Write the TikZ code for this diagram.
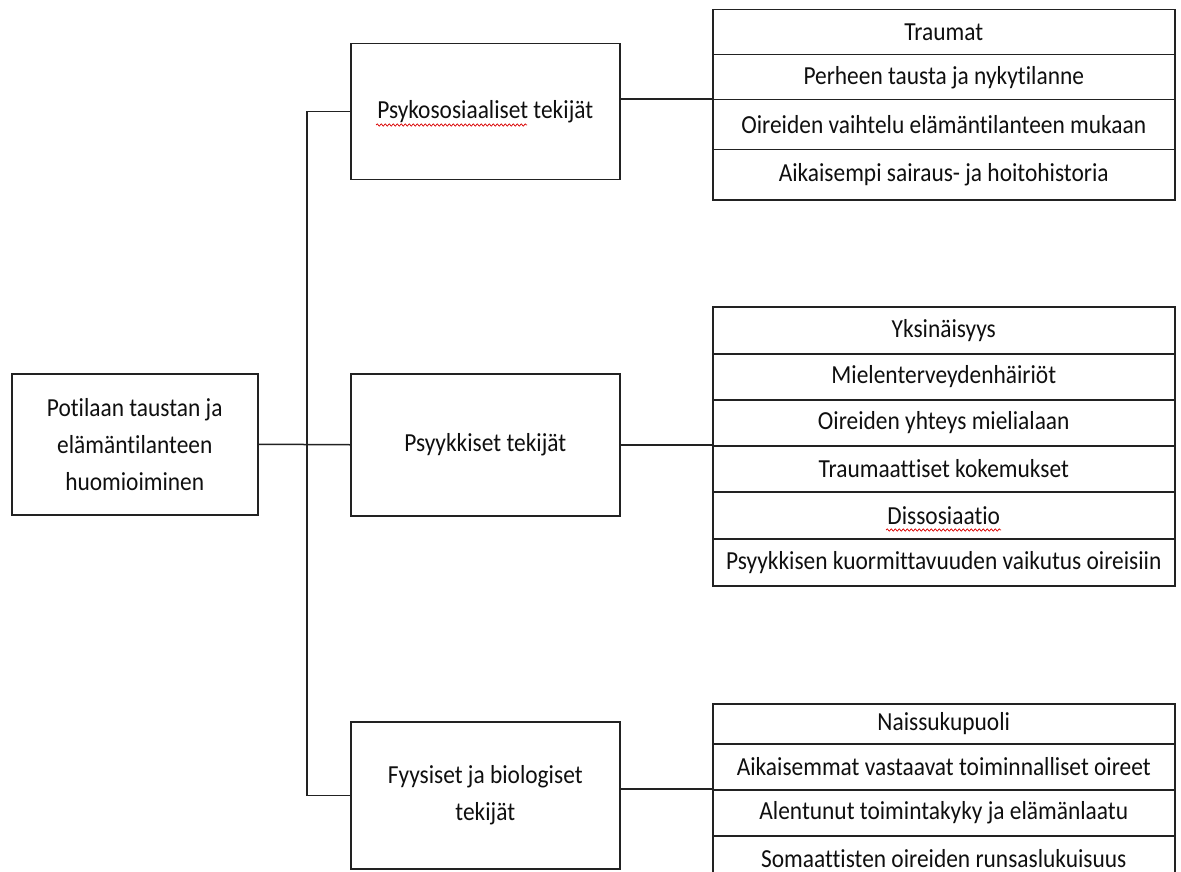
\documentclass[tikz,border=0pt]{standalone}
\usepackage{fontspec}
\setmainfont{Carlito}[FakeStretch=0.9, Ligatures=NoCommon]
\usetikzlibrary{decorations.pathmorphing}
\definecolor{edge}{HTML}{222222}
\definecolor{ink}{HTML}{0F0F0F}
\begin{document}
\begin{tikzpicture}[x=1pt, y=-1pt,
  every node/.style={font=\fontsize{26}{37}\selectfont, text=ink},
  box/.style={draw=edge, line width=1.5pt, anchor=north west, inner sep=0pt,
    align=center, minimum width=#1},
  box/.default=269,
  rowbox/.style={draw=edge, line width=1.5pt, anchor=north west, inner sep=0pt,
    minimum width=462, minimum height=#1},
  link/.style={draw=edge, line width=1.5pt},
  spell/.style={draw=red!85!black, line width=0.7pt, decorate,
    decoration={snake, amplitude=1.1pt, segment length=4pt}}]
\useasboundingbox (0,0) rectangle (1181,872);

% root and the three groups
\node[box=246, minimum height=141] (root) at (11,373)
  {Potilaan taustan ja\\elämäntilanteen\\huomioiminen};
\node[box, minimum height=136] (psykos) at (350,43) {Psykososiaaliset tekijät};
\node[box, minimum height=142] (psyyk) at (350,373) {Psyykkiset tekijät};
\node[box, minimum height=147] (fyys) at (350,721)
  {Fyysiset ja biologiset\\tekijät};

% psychosocial factors
\node[rowbox=45] (t1) at (712,9)   {Traumat};
\node[rowbox=45] (t2) at (712,54)  {Perheen tausta ja nykytilanne};
\node[rowbox=50] (t3) at (712,99)  {Oireiden vaihtelu elämäntilanteen mukaan};
\node[rowbox=50] (t4) at (712,149) {Aikaisempi sairaus- ja hoitohistoria};

% psychological factors
\node[rowbox=47] (m1) at (712,306) {Yksinäisyys};
\node[rowbox=46] (m2) at (712,353) {Mielenterveydenhäiriöt};
\node[rowbox=46] (m3) at (712,399) {Oireiden yhteys mielialaan};
\node[rowbox=46] (m4) at (712,445) {Traumaattiset kokemukset};
\node[rowbox=47] (m5) at (712,491) {Dissosiaatio};
\node[rowbox=47] (m6) at (712,538) {Psyykkisen kuormittavuuden vaikutus oireisiin};

% physical and biological factors
\node[rowbox=40] (b1) at (712,703) {Naissukupuoli};
\node[rowbox=46] (b2) at (712,743) {Aikaisemmat vastaavat toiminnalliset oireet};
\node[rowbox=46] (b3) at (712,789) {Alentunut toimintakyky ja elämänlaatu};
\node[rowbox=46] (b4) at (712,835) {Somaattisten oireiden runsaslukuisuus};

% trunk connecting the root with the groups
\coordinate (trunk) at (307,0);
\draw[link] (root.east) -- (psyyk.west);
\draw[link] (psykos.west) -- (psykos.west -| trunk) -- (fyys.west -| trunk) -- (fyys.west);

% groups to their lists
\draw[link] (psykos.east |- t3.north west) -- (t3.north west);
\draw[link] (psyyk.east) -- (psyyk.east -| m1.west);
\draw[link] (fyys.east |- b3.north west) -- (b3.north west);

% spell-check marks
\draw[spell] (376,125) -- (527,125);
\draw[spell] (886,530) -- (1001,530);
\end{tikzpicture}
\end{document}
